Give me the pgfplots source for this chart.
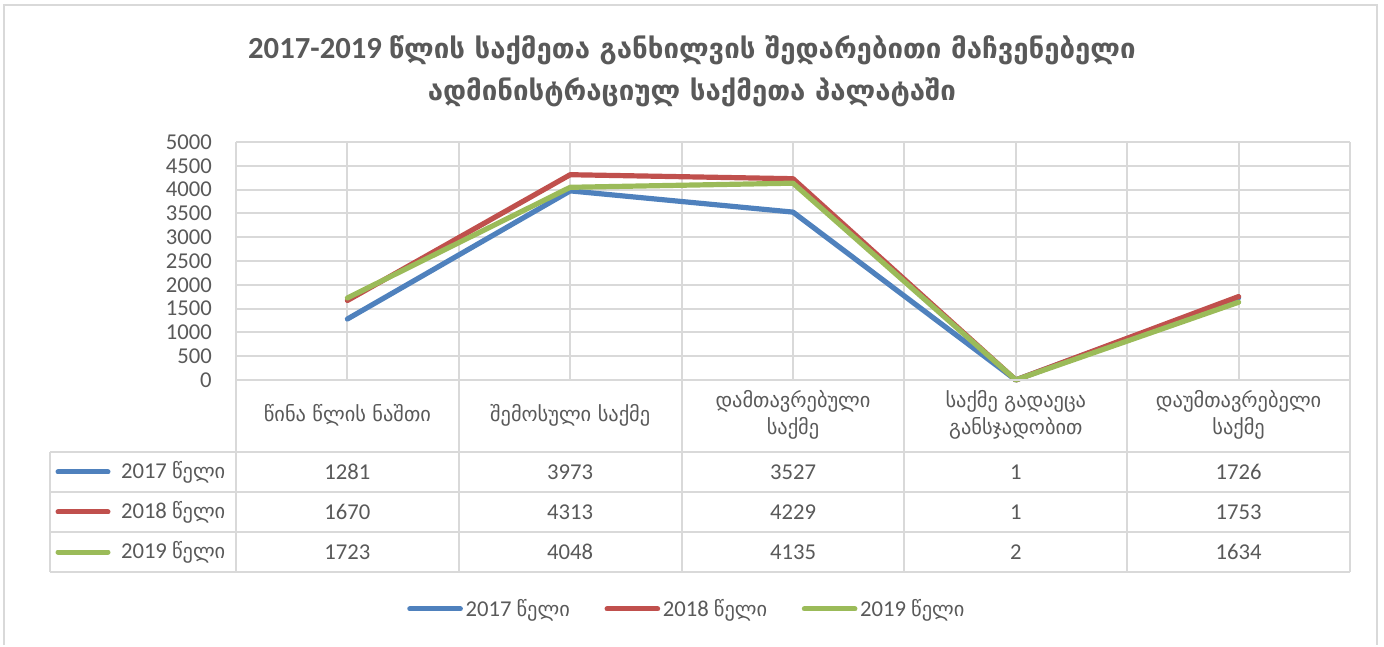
\documentclass[border=0pt]{standalone}
\usepackage{pgfplots}
\pgfplotsset{compat=1.18}
\usepackage{fontspec}
\setmainfont{Carlito}
\newfontfamily\geo[Scale=0.9]{DejaVu Sans}
\definecolor{tx}{HTML}{595959}
\definecolor{gr}{HTML}{D9D9D9}
\definecolor{c1}{HTML}{4F81BD}
\definecolor{c2}{HTML}{C0504D}
\definecolor{c3}{HTML}{9BBB59}
\newcommand{\fs}{\fontsize{17}{20}\selectfont}
\begin{document}
\begin{tikzpicture}[x=0.75pt,y=0.75pt]
\path (0,0) rectangle (1384,645);
\draw[gr, line width=1.5pt] (4,0) -- (4,640) -- (1377,640) -- (1377,0);
\begin{axis}[
  at={(177pt,198.75pt)}, anchor=south west, scale only axis,
  width=835.5pt, height=178.5pt,
  xmin=0, xmax=5, ymin=0, ymax=5000,
  xtick={0,0.5,...,5}, xticklabels={},
  ytick={0,500,...,5000},
  grid=major, major grid style={gr, line width=1.5pt},
  axis line style={draw=none}, tick style={draw=none},
  yticklabel style={font=\fs, text=tx, inner sep=0pt, xshift=-18pt},
  /pgf/number format/assume math mode=true,
  /pgf/number format/set thousands separator={},
  clip=false,
  legend columns=3,
  legend style={at={(axis description cs:0.405,-0.962)}, anchor=center, draw=none, fill=none,
    font=\fs, text=tx, /tikz/every even column/.append style={column sep=24pt}},
  legend image code/.code={\draw[#1, line width=3.75pt, line cap=round] (0pt,0pt) -- (38pt,0pt);},
]
\addplot[c1, line width=3.9pt, line cap=round, line join=round] coordinates {(0.5,1281) (1.5,3973) (2.5,3527) (3.5,1) (4.5,1726)};
\addlegendentry{2017 {\geo წელი}}
\addplot[c2, line width=3.9pt, line cap=round, line join=round] coordinates {(0.5,1670) (1.5,4313) (2.5,4229) (3.5,1) (4.5,1753)};
\addlegendentry{2018 {\geo წელი}}
\addplot[c3, line width=3.9pt, line cap=round, line join=round] coordinates {(0.5,1723) (1.5,4048) (2.5,4135) (3.5,2) (4.5,1634)};
\addlegendentry{2019 {\geo წელი}}
\end{axis}
% table grid
\begin{scope}[gr, line width=1.5pt]
\draw (236,265) -- (1350,265);
\foreach \yy in {193,153,113,73} \draw (50,\yy) -- (1350,\yy);
\draw (50,193) -- (50,73);
\foreach \xx in {236,458.8,681.6,904.4,1127.2,1350} \draw (\xx,265) -- (\xx,73);
\end{scope}
% header
\begin{scope}[font=\fs, text=tx]
\node[align=center] at (347.4,230) {\geo წინა წლის ნაშთი};
\node[align=center] at (570.2,230) {\geo შემოსული საქმე};
\node[align=center] at (793,230) {\geo დამთავრებული\\\geo საქმე};
\node[align=center] at (1015.8,230) {\geo საქმე გადაეცა\\\geo განსჯადობით};
\node[align=center] at (1238.6,230) {\geo დაუმთავრებელი\\\geo საქმე};
% row labels
\node[anchor=east] at (230,173) {2017 {\geo წელი}};
\node[anchor=east] at (230,133) {2018 {\geo წელი}};
\node[anchor=east] at (230,93) {2019 {\geo წელი}};
% values
\foreach \v [count=\i from 0] in {1281,3973,3527,1,1726} \node at (347.4+222.8*\i,173) {\v};
\foreach \v [count=\i from 0] in {1670,4313,4229,1,1753} \node at (347.4+222.8*\i,133) {\v};
\foreach \v [count=\i from 0] in {1723,4048,4135,2,1634} \node at (347.4+222.8*\i,93) {\v};
\end{scope}
\draw[c1, line width=3.75pt, line cap=round] (58,173) -- (108,173);
\draw[c2, line width=3.75pt, line cap=round] (58,133) -- (108,133);
\draw[c3, line width=3.75pt, line cap=round] (58,93) -- (108,93);
% title
\node[font=\fontsize{23}{28}\selectfont\bfseries, text=tx] at (692,595) {2017-2019 {\geo წლის საქმეთა განხილვის შედარებითი მაჩვენებელი}};
\node[font=\fontsize{23}{28}\selectfont\bfseries, text=tx] at (692,553) {\geo ადმინისტრაციულ საქმეთა პალატაში};
\end{tikzpicture}
\end{document}
